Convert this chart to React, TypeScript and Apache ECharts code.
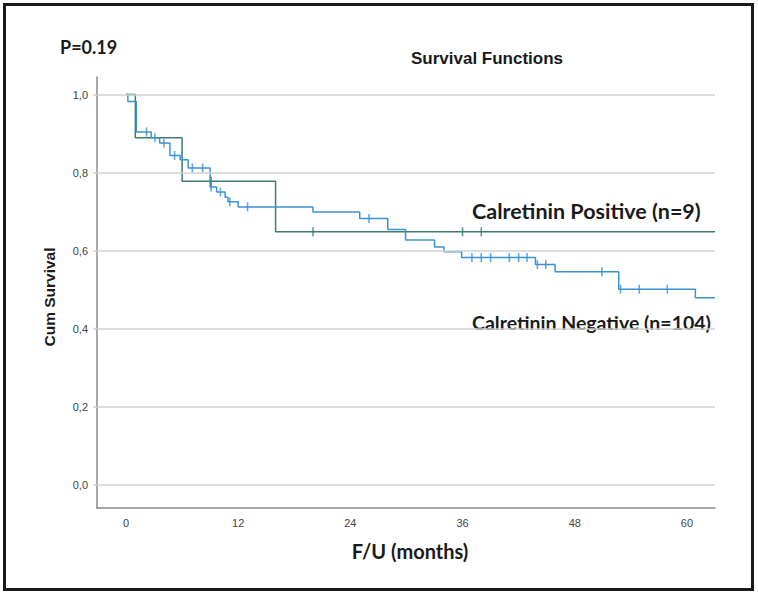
import React, { useEffect, useRef } from "react";
import * as echarts from "echarts";

// Calretinin Negative (n=104): step times (months) and cumulative survival after each step
const negTimes = [0, 0.2, 1.1, 2.7, 3.6, 4.7, 5.8, 6.65, 9.0, 9.7, 10.6, 10.9, 12.0, 20.0, 25.0, 28.0, 29.9, 33.0, 34.0, 35.9, 43.8, 45.9, 52.7, 60.9, 63];
const negSurv = [1.0, 0.982, 0.904, 0.889, 0.876, 0.844, 0.833, 0.812, 0.763, 0.75, 0.737, 0.725, 0.712, 0.699, 0.682, 0.654, 0.627, 0.609, 0.597, 0.582, 0.564, 0.546, 0.501, 0.479, 0.479];
const negCensored = [2.2, 3.1, 4.05, 5.2, 7.1, 8.2, 9.1, 10.1, 11.1, 13.0, 26.0, 37.0, 38.0, 39.0, 41.0, 42.0, 42.9, 44.0, 44.9, 50.9, 52.9, 54.9, 57.9];

// Calretinin Positive (n=9)
const posTimes = [0, 1.0, 6.0, 16.0, 63];
const posSurv = [1.0, 0.889, 0.778, 0.648, 0.648];
const posCensored = [9.1, 20.0, 36.0, 38.0];

const xTicks = [0, 12, 24, 36, 48, 60];
const yTicks = [0, 0.2, 0.4, 0.6, 0.8, 1.0];

const BLUE = "#3d93d2";
const GREEN = "#3c7d6e";

function survAt(times: number[], surv: number[], t: number) {
  let s = surv[0];
  for (let i = 0; i < times.length; i++) {
    if (times[i] <= t) s = surv[i];
  }
  return s;
}

export default function App() {
  const ref = useRef<HTMLDivElement>(null);
  useEffect(() => {
    if (!ref.current) return;
    const chart = echarts.init(ref.current, null, { renderer: "svg" });
    const font = "'Liberation Sans', Arial, sans-serif";
    chart.setOption({
      animation: false,
      backgroundColor: "#ffffff",
      grid: { left: 97, right: 43, top: 77, bottom: 87 },
      xAxis: {
        type: "value",
        min: -3.1,
        max: 63,
        axisLine: { show: true, onZero: false, lineStyle: { color: "#8a8a8a", width: 1.5 } },
        axisTick: { show: false },
        splitLine: { show: false },
        axisLabel: {
          customValues: xTicks,
          color: "#444",
          fontSize: 11,
          fontFamily: font,
          margin: 9,
        },
      },
      yAxis: {
        type: "value",
        min: -0.06,
        max: 1.045,
        axisLine: { show: true, onZero: false, lineStyle: { color: "#8a8a8a", width: 1.5 } },
        axisTick: { show: true, customValues: yTicks, length: 4, lineStyle: { color: "#cfcfcf", width: 1.5 } },
        splitLine: { show: false },
        axisLabel: {
          customValues: yTicks,
          color: "#444",
          fontSize: 11,
          fontFamily: font,
          margin: 9,
          formatter: (v: number) => v.toFixed(1).replace(".", ","),
        },
      },
      series: [
        {
          type: "line",
          data: [],
          silent: true,
          markLine: {
            silent: true,
            symbol: "none",
            label: { show: false },
            lineStyle: { color: "#d2d2d2", width: 1.5, type: "solid" },
            data: yTicks.map((v) => ({ yAxis: v })),
          },
        },
        {
          name: "Calretinin Negative",
          type: "line",
          step: "end",
          showSymbol: false,
          lineStyle: { color: BLUE, width: 1.5 },
          data: negTimes.map((t, i) => [t, negSurv[i]]),
          z: 3,
        },
        {
          name: "Calretinin Positive",
          type: "line",
          step: "end",
          showSymbol: false,
          lineStyle: { color: GREEN, width: 1.5 },
          data: posTimes.map((t, i) => [t, posSurv[i]]),
          z: 2,
        },
        {
          type: "scatter",
          symbol: "rect",
          symbolSize: [1.6, 9],
          itemStyle: { color: BLUE },
          data: negCensored.map((t) => [t, survAt(negTimes, negSurv, t)]),
          z: 4,
        },
        {
          type: "scatter",
          symbol: "rect",
          symbolSize: [1.6, 9],
          itemStyle: { color: GREEN },
          data: posCensored.map((t) => [t, survAt(posTimes, posSurv, t)]),
          z: 4,
        },
      ],
      graphic: [
        {
          type: "rect",
          shape: { x: 4.5, y: 4.5, width: 748, height: 585 },
          style: { fill: "none", stroke: "#1a1a1a", lineWidth: 3 },
          silent: true,
        },
        {
          type: "text",
          x: 60,
          y: 47,
          style: { text: "P=0.19", font: `bold 18px Lato, ${font}`, fill: "#1a1a1a", verticalAlign: "middle" },
        },
        {
          type: "text",
          x: 487,
          y: 58,
          style: { text: "Survival Functions", font: `bold 17px ${font}`, fill: "#1a1a1a", align: "center", verticalAlign: "middle" },
        },
        {
          type: "text",
          x: 472,
          y: 211,
          style: { text: "Calretinin Positive (n=9)", font: `bold 21.5px Lato, ${font}`, fill: "#1a1a1a", verticalAlign: "middle" },
        },
        {
          type: "text",
          x: 472,
          y: 322,
          style: { text: "Calretinin Negative (n=104)", font: `bold 19.5px Lato, ${font}`, fill: "#1a1a1a", verticalAlign: "middle" },
        },
        {
          type: "text",
          x: 410,
          y: 551,
          style: { text: "F/U (months)", font: `bold 20px Lato, ${font}`, fill: "#1a1a1a", align: "center", verticalAlign: "middle" },
        },
        {
          type: "text",
          x: 49,
          y: 297,
          rotation: Math.PI / 2,
          style: { text: "Cum Survival", font: `bold 15.5px ${font}`, fill: "#1a1a1a", align: "center", verticalAlign: "middle" },
        },
      ],
    });
    return () => chart.dispose();
  }, []);
  return (
    <div
      ref={ref}
      style={{ position: "absolute", left: 0, top: 0, width: 758, height: 595 }}
    />
  );
}
